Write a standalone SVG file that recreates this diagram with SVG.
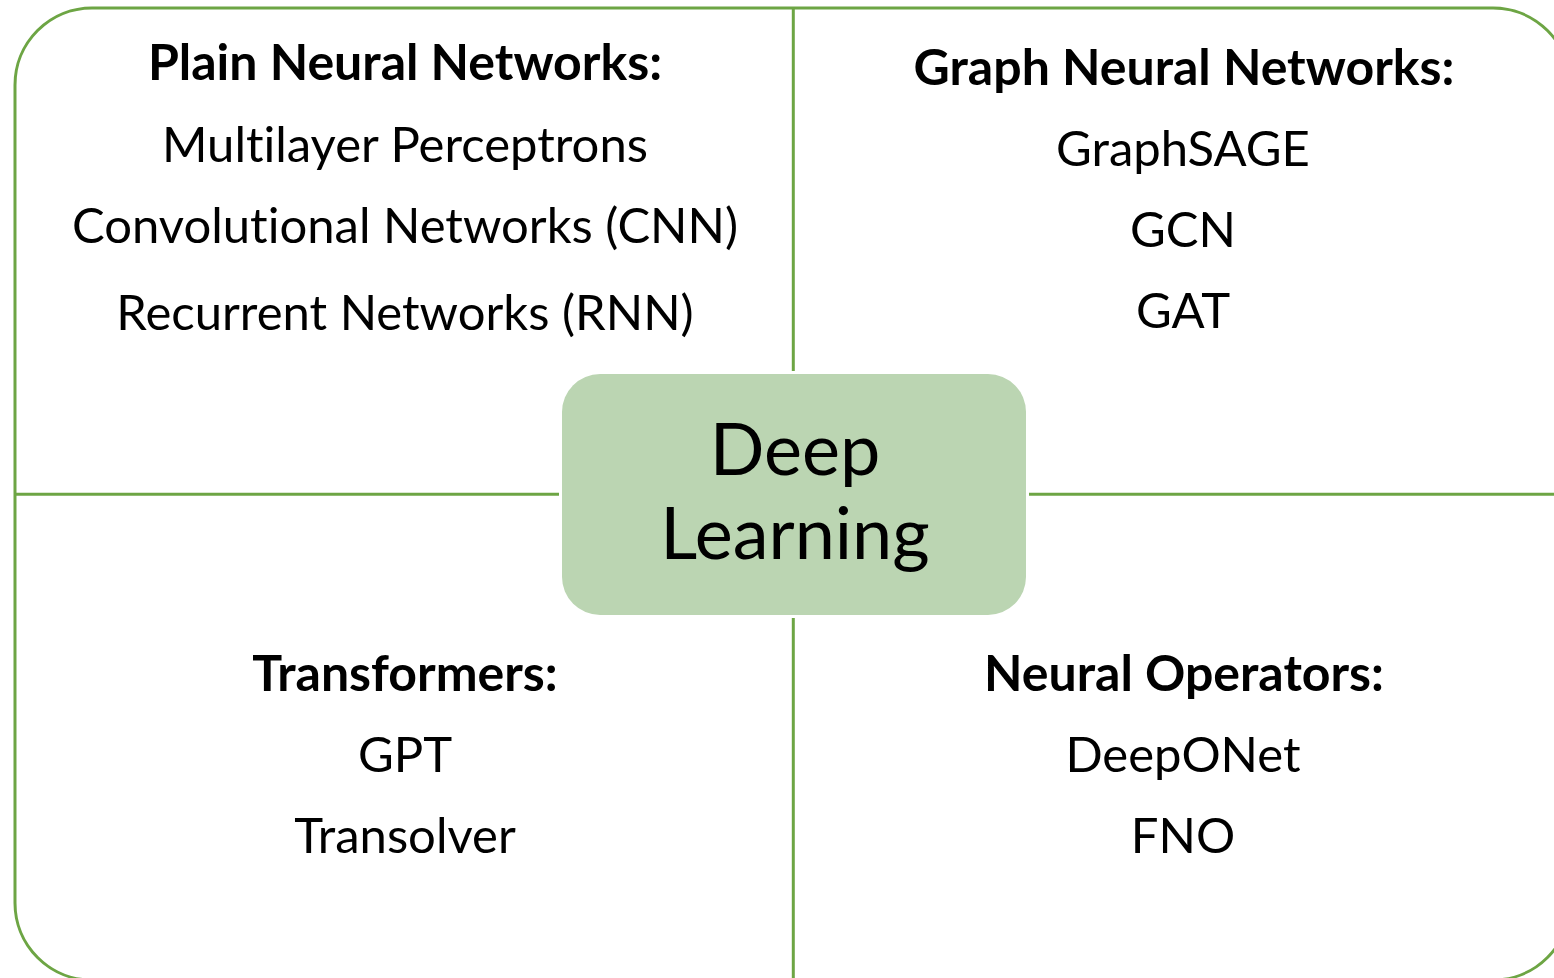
<svg xmlns="http://www.w3.org/2000/svg" width="1554" height="978" viewBox="0 0 1554 978">
  <style>
    .t { font-family: Lato, "Open Sans", sans-serif; font-size: 49px; fill: #000; text-anchor: middle; font-variant-ligatures: none; }
    .h { font-weight: bold; font-size: 50px; }
    .big { font-family: Lato, "Open Sans", sans-serif; font-size: 72px; fill: #000; text-anchor: middle; font-variant-ligatures: none; }
    .ln { stroke: #6DA544; stroke-width: 3; fill: none; }
  </style>
  <rect width="1554" height="978" fill="#FFFFFF"/>
  <g id="frame">
    <rect class="ln" x="15" y="8" width="1555" height="972" rx="77" ry="77"/>
  </g>
  <g id="connectors">
    <line class="ln" x1="793.3" y1="8" x2="793.3" y2="371"/>
    <line class="ln" x1="793.3" y1="618" x2="793.3" y2="980"/>
    <line class="ln" x1="15" y1="494.3" x2="559" y2="494.3"/>
    <line class="ln" x1="1029" y1="494.3" x2="1570" y2="494.3"/>
  </g>
  <g id="center">
    <rect x="562" y="374" width="464" height="241" rx="38" ry="38" fill="#BBD5B2"/>
    <text class="big" x="795" y="475">Deep</text>
    <text class="big" x="795" y="559">Learning</text>
  </g>
  <g id="plain">
    <text class="t h" x="405" y="80">Plain Neural Networks:</text>
    <text class="t" x="405" y="162">Multilayer Perceptrons</text>
    <text class="t" x="405" y="243">Convolutional Networks (CNN)</text>
    <text class="t" x="405" y="330">Recurrent Networks (RNN)</text>
  </g>
  <g id="graph">
    <text class="t h" x="1184" y="85">Graph Neural Networks:</text>
    <text class="t" x="1183" y="166">GraphSAGE</text>
    <text class="t" x="1183" y="247">GCN</text>
    <text class="t" x="1183" y="328">GAT</text>
  </g>
  <g id="transformers">
    <text class="t h" x="405" y="691">Transformers:</text>
    <text class="t" x="405" y="772">GPT</text>
    <text class="t" x="405" y="853">Transolver</text>
  </g>
  <g id="operators">
    <text class="t h" x="1184" y="691">Neural Operators:</text>
    <text class="t" x="1183" y="772">DeepONet</text>
    <text class="t" x="1183" y="853">FNO</text>
  </g>
</svg>
